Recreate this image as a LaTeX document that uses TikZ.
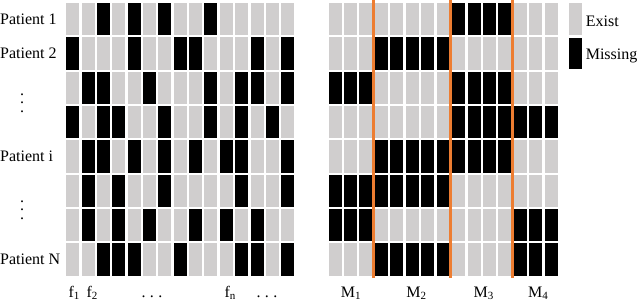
\documentclass[tikz,border=0pt]{standalone}
\usepackage{fontspec}
\setmainfont{Liberation Serif}
\usetikzlibrary{positioning}
\definecolor{cellgray}{RGB}{208,206,206}
\definecolor{sepor}{RGB}{237,125,49}
\tikzset{
  cell/.style={draw=none, inner sep=0pt, minimum width=13pt, minimum height=32.3pt, anchor=north west},
  sepline/.style={sepor, line width=2.6pt},
  plab/.style={font=\fontsize{16}{19}\selectfont, inner sep=0pt, anchor=base west},
  blab/.style={font=\fontsize{16}{19}\selectfont, inner sep=0pt, anchor=base},
  vd/.style={font=\fontsize{16}{19}\selectfont, inner sep=0pt},
}
\newcommand{\lowidx}[1]{\raisebox{-0.3ex}{\fontsize{11}{11}\selectfont #1}}
\newcommand{\cellrow}[4]{%
  \foreach \v [count=\c] in #4 {
    \ifnum\v=1 \def\cf{black}\else \def\cf{cellgray}\fi
    \node[cell, fill=\cf] (#1\c-#3) at ({#2+(\c-1)*\px}, {2.7+(#3-1)*\py}) {};
  }}
\newcommand{\spaceddots}{.\hspace{4.5pt}.\hspace{4.5pt}.}
\newcommand{\tallvdots}{\vbox{\baselineskip8.5pt\lineskiplimit0pt\hbox{.}\hbox{.}\hbox{.}}}

\begin{document}
\begin{tikzpicture}[x=1pt, y=-1pt]
  \def\py{34.37}
  \useasboundingbox (0,0) rectangle (640,302);
  \def\px{15.36}
  \foreach \r/\pat in {1/{0,0,1,0,1,0,1,0,0,1,0,0,0,0,0},
                       2/{1,0,0,0,1,0,0,1,1,0,0,0,1,0,1},
                       3/{0,1,1,0,0,1,0,0,0,1,0,1,1,0,1},
                       4/{1,0,1,1,0,0,1,0,0,1,0,1,0,1,0},
                       5/{0,1,1,0,1,0,1,0,1,0,1,1,0,0,1},
                       6/{0,1,0,1,0,0,1,0,0,0,0,1,0,0,1},
                       7/{0,1,0,1,0,1,0,0,1,0,1,0,1,0,0},
                       8/{0,0,1,1,1,0,0,1,0,0,0,1,1,0,1}}
    {\cellrow{L}{66}{\r}{\pat}}
  \def\px{15.45}
  \foreach \r/\pat in {1/{0,0,0,0,0,0,0,0,1,1,1,1,0,0,0},
                       2/{0,0,0,1,1,1,1,1,0,0,0,0,0,0,0},
                       3/{1,1,1,0,0,0,0,0,1,1,1,1,0,0,0},
                       4/{0,0,0,0,0,0,0,0,1,1,1,1,1,1,1},
                       5/{0,0,0,1,1,1,1,1,1,1,1,1,0,0,0},
                       6/{1,1,1,1,1,1,1,1,0,0,0,0,0,0,0},
                       7/{1,1,1,0,0,0,0,0,0,0,0,0,1,1,1},
                       8/{0,0,0,1,1,1,1,1,0,0,0,0,1,1,1}}
    {\cellrow{R}{328.3}{\r}{\pat}}

  \foreach \s/\x in {a/373.4, b/450.6, c/512.3} {
    \coordinate (\s top) at (\x,0);
    \coordinate (\s bot) at (\x,277.7);
    \draw[sepline] (\s top) -- (\s bot);
  }

  \node[plab] (p1) at (0,24.3) {Patient 1};
  \node[plab] (p2) at (0,58.7) {Patient 2};
  \node[plab] (pi) at (0,161.8) {Patient i};
  \node[plab] (pN) at (0,264.9) {Patient N};
  \node[vd] (d1) at (22,103) {\tallvdots};
  \node[vd] (d2) at (22,210) {\tallvdots};

  \node[blab] (f1) at (74,297) {f\lowidx{1}};
  \node[blab] (f2) at (92,297) {f\lowidx{2}};
  \node[blab] (fd1) at (152,297) {\spaceddots};
  \node[blab] (fn) at (230,297) {f\lowidx{n}};
  \node[blab] (fd2) at (267,297) {\spaceddots};
  \node[blab] (m1) at (350.8,297) {M\lowidx{1}};
  \node[blab] (m2) at (416.3,297) {M\lowidx{2}};
  \node[blab] (m3) at (483.5,297) {M\lowidx{3}};
  \node[blab] (m4) at (538,297) {M\lowidx{4}};

  \node[cell, fill=cellgray, minimum width=13.4pt] (kex) at (568.3,2.7) {};
  \node[cell, fill=black, minimum width=13.4pt, minimum height=31.6pt] (kms) at (568.3,37.7) {};
  \node[plab, anchor=west, right=3.5pt of kex, yshift=-1.8pt] (tex) {Exist};
  \node[plab, anchor=west, right=3.5pt of kms, yshift=-1.8pt] (tms) {Missing};
\end{tikzpicture}
\end{document}
